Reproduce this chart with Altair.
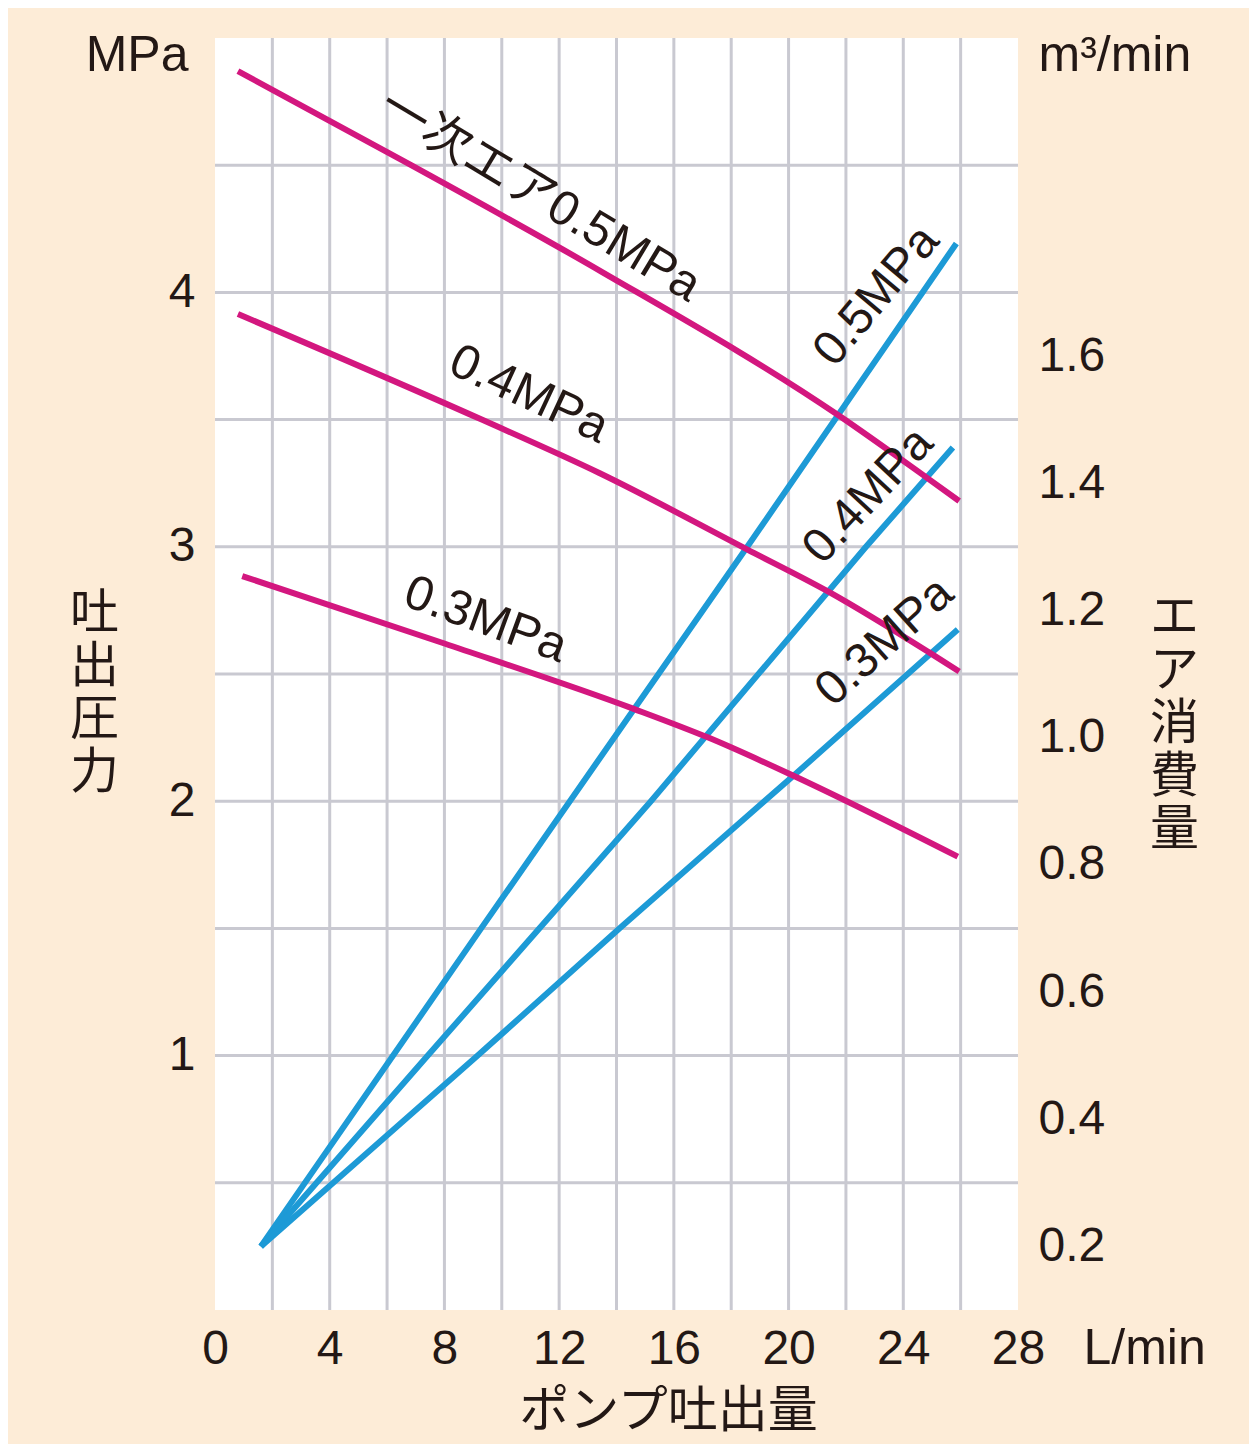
import altair as alt
import pandas as pd

# ---- axis ticks / grid (data units) ----
flow_ticks = [0, 4, 8, 12, 16, 20, 24, 28]            # L/min
pressure_ticks = [1, 2, 3, 4]                          # MPa
air_ticks = [0.2, 0.4, 0.6, 0.8, 1.0, 1.2, 1.4, 1.6]   # m3/min
grid_flow = [2, 4, 6, 8, 10, 12, 14, 16, 18, 20, 22, 24, 26]
grid_pressure = [0.5, 1.0, 1.5, 2.0, 2.5, 3.0, 3.5, 4.0, 4.5]

# ---- discharge pressure (MPa) vs pump flow (L/min), per primary air pressure ----
p05_flow = [0.8, 6.84, 13.5, 21.7, 24.84, 25.95]
p05_pres = [4.87, 4.50, 4.08, 3.52, 3.27, 3.18]
p04_flow = [0.8, 9.3, 13.4, 18.55, 21.45, 24.9, 25.95]
p04_pres = [3.915, 3.50, 3.29, 2.99, 2.82, 2.585, 2.51]
p03_flow = [0.95, 8.0, 14.6, 17.2, 20.17, 25.9]
p03_pres = [2.885, 2.62, 2.363, 2.25, 2.10, 1.782]

# ---- air consumption (m3/min) vs pump flow (L/min) ----
a05_flow = [1.6, 9.28, 18.56, 25.85]
a05_air = [0.2, 0.70, 1.30, 1.777]
a04_flow = [1.6, 7.42, 15.2, 22.7, 25.73]
a04_air = [0.2, 0.5, 0.9, 1.3, 1.456]
a03_flow = [1.6, 9.16, 14.1, 20.17, 25.9]
a03_air = [0.2, 0.5, 0.7, 0.94, 1.17]

# ---- curve labels ----
pink_label_text = ["一次エア0.5MPa", "0.4MPa", "0.3MPa"]
pink_label_flow = [11.33, 10.95, 9.44]
pink_label_pres = [4.38, 3.60, 2.714]
pink_label_angle = [31, 25, 20]

blue_label_text = ["0.5MPa", "0.4MPa", "0.3MPa"]
blue_label_flow = [23.08, 22.79, 23.36]
blue_label_air = [1.694, 1.380, 1.150]
blue_label_angle = [310, 313, 318]

# ---- styling ----
BG = "#FDECD7"
GRID = "#C9C9D1"
PINK = "#D3177F"
BLUE = "#1D9AD6"
INK = "#231815"
LATIN = "Liberation Sans"
CJK = "Noto Sans CJK JP"
MIX = "Liberation Sans, Noto Sans CJK JP"

# ---- tables ----
pink_df = pd.concat([
    pd.DataFrame({"series": s, "flow": f, "pressure": p})
    for s, f, p in [("0.5", p05_flow, p05_pres), ("0.4", p04_flow, p04_pres), ("0.3", p03_flow, p03_pres)]
])
blue_df = pd.concat([
    pd.DataFrame({"series": s, "flow": f, "air": a})
    for s, f, a in [("0.5", a05_flow, a05_air), ("0.4", a04_flow, a04_air), ("0.3", a03_flow, a03_air)]
])
pink_lab_df = pd.DataFrame({"text": pink_label_text, "flow": pink_label_flow,
                            "pressure": pink_label_pres, "angle": pink_label_angle})
blue_lab_df = pd.DataFrame({"text": blue_label_text, "flow": blue_label_flow,
                            "air": blue_label_air, "angle": blue_label_angle})

X_SCALE = alt.Scale(domain=[0, 28], nice=False, zero=False)
P_SCALE = alt.Scale(domain=[0, 5], nice=False, zero=False)
A_SCALE = alt.Scale(domain=[0.1, 2.1], nice=False, zero=False)

X_AXIS = alt.Axis(
    values=flow_ticks, labelFont=LATIN, labelFontSize=48, labelColor=INK,
    labelFlush=False, labelOverlap=False, labelPadding=53, labelBaseline="alphabetic",
    ticks=False, tickSize=0, domain=False, grid=False,
    title="L/min", titleX=868, titleY=53, titleAlign="left", titleBaseline="alphabetic",
    titleAngle=0, titleFont=LATIN, titleFontSize=50, titleFontWeight="normal",
    titleColor=INK)


def x_enc():
    return alt.X("flow:Q", scale=X_SCALE, axis=X_AXIS)


vgrid = alt.Chart(pd.DataFrame({"flow": grid_flow})).mark_rule(
    color=GRID, strokeWidth=3).encode(x=x_enc())

hgrid = alt.Chart(pd.DataFrame({"pressure": grid_pressure})).mark_rule(
    color=GRID, strokeWidth=3).encode(
    y=alt.Y("pressure:Q", scale=P_SCALE, axis=alt.Axis(
        orient="left", labels=False, ticks=False, tickSize=0, domain=False, grid=False,
        title=list("吐出圧力"), titleAngle=0, titleX=-121, titleY=575,
        titleAlign="center", titleBaseline="middle", titleFont=CJK, titleFontSize=49,
        titleFontWeight="normal", titleLineHeight=53, titleColor=INK)))

blue = alt.Chart(blue_df).mark_line(color=BLUE, strokeWidth=6).encode(
    x=x_enc(),
    y=alt.Y("air:Q", scale=A_SCALE, axis=alt.Axis(
        orient="right", values=air_ticks, format=".1f", labelFont=LATIN, labelFontSize=48,
        labelColor=INK, labelPadding=20, ticks=False, tickSize=0, domain=False, grid=False,
        title="m³/min", titleAngle=0, titleX=20, titleY=32, titleAlign="left",
        titleBaseline="alphabetic", titleFont=LATIN, titleFontSize=50,
        titleFontWeight="normal", titleColor=INK)),
    detail="series:N")

pink = alt.Chart(pink_df).mark_line(color=PINK, strokeWidth=6, interpolate="monotone").encode(
    x=x_enc(),
    y=alt.Y("pressure:Q", scale=P_SCALE, axis=alt.Axis(
        orient="left", values=pressure_ticks, labelFont=LATIN, labelFontSize=48,
        labelColor=INK, labelPadding=20, ticks=False, tickSize=0, domain=False, grid=False,
        title="MPa", titleAngle=0, titleX=-27, titleY=32, titleAlign="right",
        titleBaseline="alphabetic", titleFont=LATIN, titleFontSize=50,
        titleFontWeight="normal", titleColor=INK)),
    detail="series:N")

pink_labels = alt.Chart(pink_lab_df).mark_text(
    font=MIX, fontSize=49, color=INK, align="center", baseline="middle").encode(
    x=x_enc(),
    y=alt.Y("pressure:Q", scale=P_SCALE, axis=None),
    text="text:N",
    angle=alt.Angle("angle:Q", scale=None))

blue_labels = alt.Chart(blue_lab_df).mark_text(
    font=MIX, fontSize=48, color=INK, align="center", baseline="middle").encode(
    x=x_enc(),
    y=alt.Y("air:Q", scale=A_SCALE, axis=alt.Axis(
        orient="right", labels=False, ticks=False, tickSize=0, domain=False, grid=False,
        title=list("エア消費量"), titleAngle=0, titleX=156, titleY=579,
        titleAlign="center", titleBaseline="middle", titleFont=CJK, titleFontSize=49,
        titleFontWeight="normal", titleLineHeight=53, titleColor=INK)),
    text="text:N",
    angle=alt.Angle("angle:Q", scale=None))

chart = alt.layer(vgrid, hgrid, blue, pink, pink_labels, blue_labels).resolve_scale(
    y="independent"
).properties(
    width=803, height=1272,
    autosize=alt.AutoSizeParams(type="none"),
    padding={"left": 207, "top": 30, "right": 231, "bottom": 134},
    background=BG,
    title=alt.TitleParams(text="ポンプ吐出量", orient="bottom", anchor="middle",
                          frame="group", dx=52, offset=14, baseline="top",
                          font=CJK, fontSize=50, fontWeight="normal", color=INK),
).configure_view(fill="white", stroke=None)

chart.save("out.html", embed_options={"renderer": "svg", "actions": False})
